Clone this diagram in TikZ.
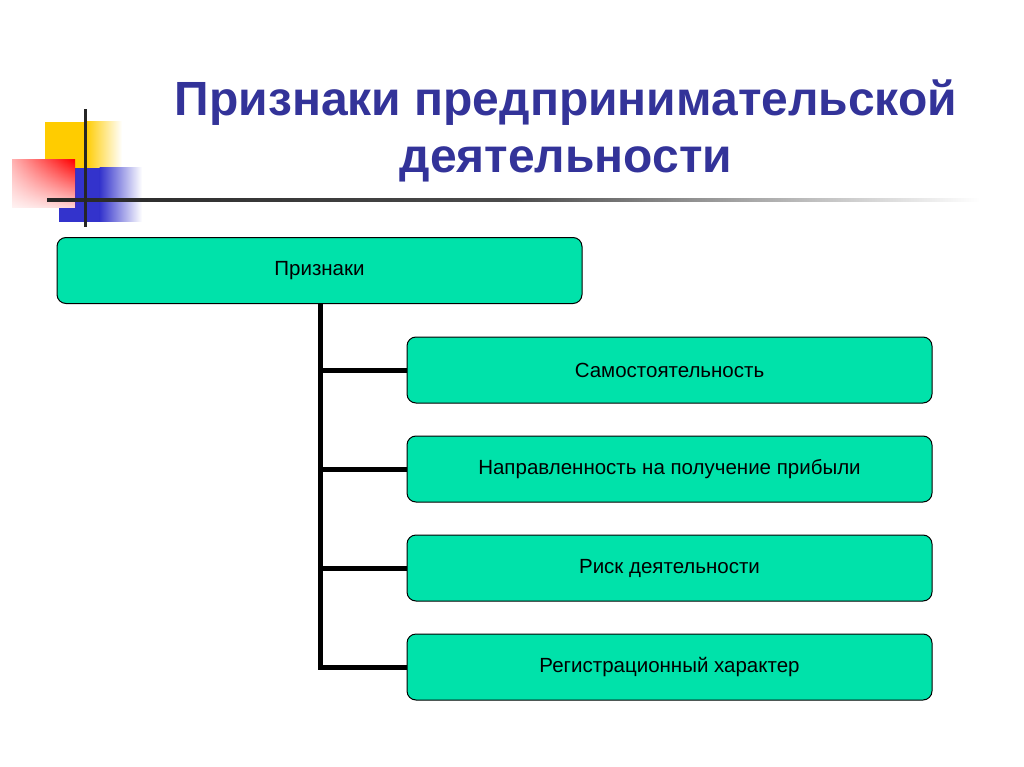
\documentclass[tikz,border=0pt]{standalone}
\usepackage{fontspec}
\setmainfont{Liberation Sans}
\usetikzlibrary{fadings}
\definecolor{boxfill}{RGB}{0,226,170}
\definecolor{titleblue}{RGB}{51,51,153}
\definecolor{decoyellow}{RGB}{255,204,0}
\definecolor{decoblue}{RGB}{51,51,204}
\begin{document}
\begin{tikzpicture}[x=1pt,y=-1pt,
  box/.style={draw=black, line width=1pt, fill=boxfill, rounded corners=9pt,
    minimum width=525pt, minimum height=66pt, inner sep=0pt,
    font=\fontsize{20.5pt}{24pt}\selectfont},
  link/.style={line width=5pt, draw=black}]
\useasboundingbox (0,0) rectangle (1024,767);
% decoration
\fill[decoyellow] (45,122) rectangle (86,168);
\shade[left color=decoyellow, right color=white] (85.5,122) rectangle (122,168);
\fill[decoblue] (59,168) rectangle (100,222);
\shade[left color=decoblue, right color=white] (99.5,168) rectangle (142,222);
\shade[left color=red!30, right color=red] (12,160) rectangle (75,208);
\fill[white, opacity=0.85, path fading=north] (12,160) rectangle (75,208);
\shade[left color=black!85, right color=white, middle color=black!70] (47,198.5) rectangle (980,201.5);
\fill[black!85] (83.5,109) rectangle (86.5,227);
% title
\node[text=titleblue, font=\bfseries\fontsize{48pt}{57pt}\selectfont, align=center] (title) at (566,131)
  {Признаки предпринимательской\\деятельности};
% boxes
\node[box] (root) at (319.5,270.5) {Признаки};
\node[box] (c1) at (669.5,370) {Самостоятельность};
\node[box] (c2) at (669.5,469) {Направленность на получение прибыли};
\node[box] (c3) at (669.5,568) {Риск деятельности};
\node[box] (c4) at (669.5,667) {Регистрационный характер};
\coordinate (trunk) at (320,304);
\draw[link] (root.south -| trunk) -- (trunk |- c4.west) -- (c4.west);
\draw[link] (trunk |- c1.west) -- (c1.west);
\draw[link] (trunk |- c2.west) -- (c2.west);
\draw[link] (trunk |- c3.west) -- (c3.west);
\end{tikzpicture}
\end{document}
